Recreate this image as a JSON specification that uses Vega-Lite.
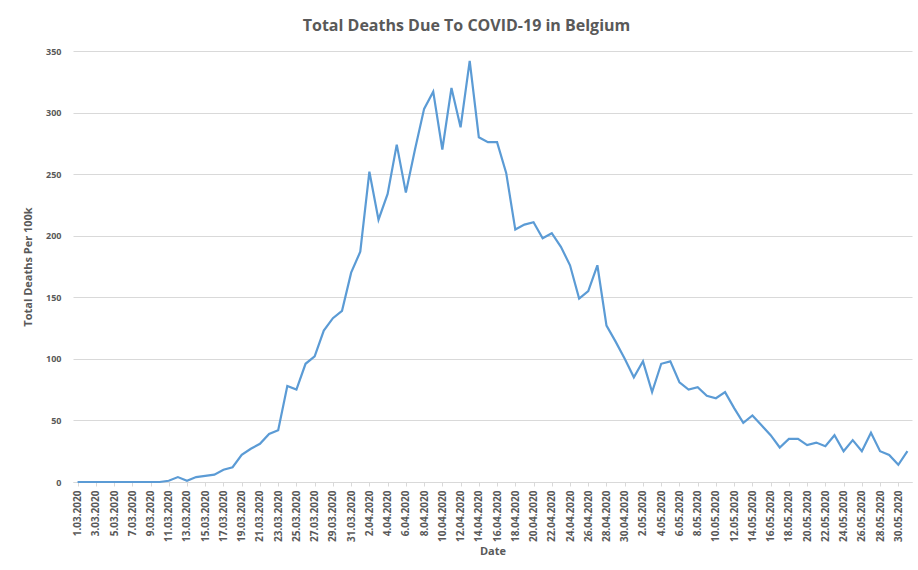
{
  "$schema": "https://vega.github.io/schema/vega-lite/v6.json",
  "width": 839,
  "height": 431,
  "autosize": {"type": "none"},
  "padding": {"left": 73, "top": 51, "right": 6, "bottom": 88},
  "background": "white",
  "title": {
    "text": "Total Deaths Due To COVID-19 in Belgium",
    "font": "Open Sans",
    "fontSize": 16,
    "fontWeight": "bold",
    "color": "#595959",
    "anchor": "middle",
    "dx": -26,
    "offset": 13
  },
  "data": {
    "values": [
      {"date": "1.03.2020", "deaths": 0},
      {"date": "2.03.2020", "deaths": 0},
      {"date": "3.03.2020", "deaths": 0},
      {"date": "4.03.2020", "deaths": 0},
      {"date": "5.03.2020", "deaths": 0},
      {"date": "6.03.2020", "deaths": 0},
      {"date": "7.03.2020", "deaths": 0},
      {"date": "8.03.2020", "deaths": 0},
      {"date": "9.03.2020", "deaths": 0},
      {"date": "10.03.2020", "deaths": 0},
      {"date": "11.03.2020", "deaths": 1},
      {"date": "12.03.2020", "deaths": 4},
      {"date": "13.03.2020", "deaths": 1},
      {"date": "14.03.2020", "deaths": 4},
      {"date": "15.03.2020", "deaths": 5},
      {"date": "16.03.2020", "deaths": 6},
      {"date": "17.03.2020", "deaths": 10},
      {"date": "18.03.2020", "deaths": 12},
      {"date": "19.03.2020", "deaths": 22},
      {"date": "20.03.2020", "deaths": 27},
      {"date": "21.03.2020", "deaths": 31},
      {"date": "22.03.2020", "deaths": 39},
      {"date": "23.03.2020", "deaths": 42},
      {"date": "24.03.2020", "deaths": 78},
      {"date": "25.03.2020", "deaths": 75},
      {"date": "26.03.2020", "deaths": 96},
      {"date": "27.03.2020", "deaths": 102},
      {"date": "28.03.2020", "deaths": 123},
      {"date": "29.03.2020", "deaths": 133},
      {"date": "30.03.2020", "deaths": 139},
      {"date": "31.03.2020", "deaths": 170},
      {"date": "1.04.2020", "deaths": 187},
      {"date": "2.04.2020", "deaths": 252},
      {"date": "3.04.2020", "deaths": 213},
      {"date": "4.04.2020", "deaths": 234},
      {"date": "5.04.2020", "deaths": 274},
      {"date": "6.04.2020", "deaths": 235},
      {"date": "7.04.2020", "deaths": 270},
      {"date": "8.04.2020", "deaths": 303},
      {"date": "9.04.2020", "deaths": 317},
      {"date": "10.04.2020", "deaths": 270},
      {"date": "11.04.2020", "deaths": 320},
      {"date": "12.04.2020", "deaths": 288},
      {"date": "13.04.2020", "deaths": 342},
      {"date": "14.04.2020", "deaths": 280},
      {"date": "15.04.2020", "deaths": 276},
      {"date": "16.04.2020", "deaths": 276},
      {"date": "17.04.2020", "deaths": 251},
      {"date": "18.04.2020", "deaths": 205},
      {"date": "19.04.2020", "deaths": 209},
      {"date": "20.04.2020", "deaths": 211},
      {"date": "21.04.2020", "deaths": 198},
      {"date": "22.04.2020", "deaths": 202},
      {"date": "23.04.2020", "deaths": 191},
      {"date": "24.04.2020", "deaths": 176},
      {"date": "25.04.2020", "deaths": 149},
      {"date": "26.04.2020", "deaths": 155},
      {"date": "27.04.2020", "deaths": 176},
      {"date": "28.04.2020", "deaths": 127},
      {"date": "29.04.2020", "deaths": 114},
      {"date": "30.04.2020", "deaths": 100},
      {"date": "1.05.2020", "deaths": 85},
      {"date": "2.05.2020", "deaths": 98},
      {"date": "3.05.2020", "deaths": 73},
      {"date": "4.05.2020", "deaths": 96},
      {"date": "5.05.2020", "deaths": 98},
      {"date": "6.05.2020", "deaths": 81},
      {"date": "7.05.2020", "deaths": 75},
      {"date": "8.05.2020", "deaths": 77},
      {"date": "9.05.2020", "deaths": 70},
      {"date": "10.05.2020", "deaths": 68},
      {"date": "11.05.2020", "deaths": 73},
      {"date": "12.05.2020", "deaths": 60},
      {"date": "13.05.2020", "deaths": 48},
      {"date": "14.05.2020", "deaths": 54},
      {"date": "15.05.2020", "deaths": 46},
      {"date": "16.05.2020", "deaths": 38},
      {"date": "17.05.2020", "deaths": 28},
      {"date": "18.05.2020", "deaths": 35},
      {"date": "19.05.2020", "deaths": 35},
      {"date": "20.05.2020", "deaths": 30},
      {"date": "21.05.2020", "deaths": 32},
      {"date": "22.05.2020", "deaths": 29},
      {"date": "23.05.2020", "deaths": 38},
      {"date": "24.05.2020", "deaths": 25},
      {"date": "25.05.2020", "deaths": 34},
      {"date": "26.05.2020", "deaths": 25},
      {"date": "27.05.2020", "deaths": 40},
      {"date": "28.05.2020", "deaths": 25},
      {"date": "29.05.2020", "deaths": 22},
      {"date": "30.05.2020", "deaths": 14},
      {"date": "31.05.2020", "deaths": 25}
    ]
  },
  "mark": {"type": "line", "color": "#5B9BD5", "strokeWidth": 2.2},
  "encoding": {
    "x": {
      "field": "date",
      "type": "ordinal",
      "sort": null,
      "scale": {"type": "point", "padding": 0.5},
      "title": "Date",
      "axis": {
        "values": ["1.03.2020","3.03.2020","5.03.2020","7.03.2020","9.03.2020","11.03.2020","13.03.2020","15.03.2020","17.03.2020","19.03.2020","21.03.2020","23.03.2020","25.03.2020","27.03.2020","29.03.2020","31.03.2020","2.04.2020","4.04.2020","6.04.2020","8.04.2020","10.04.2020","12.04.2020","14.04.2020","16.04.2020","18.04.2020","20.04.2020","22.04.2020","24.04.2020","26.04.2020","28.04.2020","30.04.2020","2.05.2020","4.05.2020","6.05.2020","8.05.2020","10.05.2020","12.05.2020","14.05.2020","16.05.2020","18.05.2020","20.05.2020","22.05.2020","24.05.2020","26.05.2020","28.05.2020","30.05.2020"],
        "labelAngle": -90,
        "labelAlign": "right",
        "labelBaseline": "middle",
        "labelFont": "Open Sans",
        "labelFontSize": 10,
        "labelFontWeight": "bold",
        "labelColor": "#595959",
        "labelPadding": 4,
        "tickSize": 4,
        "tickColor": "#d9d9d9",
        "domainColor": "#d9d9d9",
        "grid": false,
        "titleFont": "Open Sans",
        "titleFontSize": 11,
        "titleFontWeight": "bold",
        "titleColor": "#595959",
        "titlePadding": 4
      }
    },
    "y": {
      "field": "deaths",
      "type": "quantitative",
      "scale": {"domain": [0, 350], "nice": false},
      "title": "Total Deaths Per 100k",
      "axis": {
        "values": [0, 50, 100, 150, 200, 250, 300, 350],
        "domain": false,
        "ticks": false,
        "gridColor": "#d9d9d9",
        "gridWidth": 1,
        "labelFont": "Open Sans",
        "labelFontSize": 9,
        "labelFontWeight": "bold",
        "labelColor": "#595959",
        "labelPadding": 12,
        "titleFont": "Open Sans",
        "titleFontSize": 11,
        "titleFontWeight": "bold",
        "titleColor": "#595959",
        "titlePadding": 12
      }
    }
  },
  "config": {"view": {"stroke": null}}
}
